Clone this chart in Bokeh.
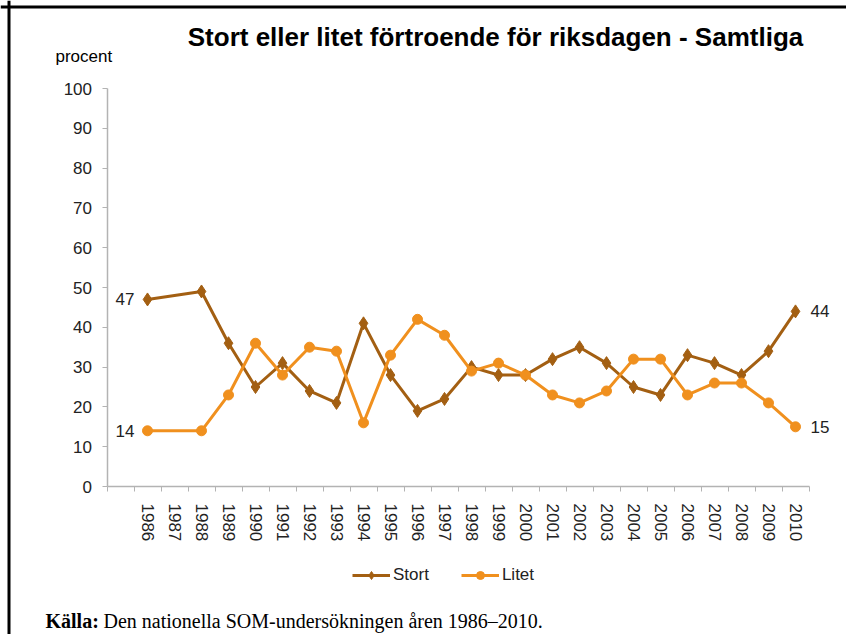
import math
from bokeh.plotting import figure
from bokeh.models import (FixedTicker, Label, Legend, LegendItem, ColumnDataSource, Span)
from bokeh.embed import file_html
from bokeh.resources import INLINE

# ---- data ----
all_years = list(range(1986, 2011))
years = [1986, 1988, 1989, 1990, 1991, 1992, 1993, 1994, 1995, 1996, 1997, 1998,
         1999, 2000, 2001, 2002, 2003, 2004, 2005, 2006, 2007, 2008, 2009, 2010]
stort = [47, 49, 36, 25, 31, 24, 21, 41, 28, 19, 22, 30,
         28, 28, 32, 35, 31, 25, 23, 33, 31, 28, 34, 44]
litet = [14, 14, 23, 36, 28, 35, 34, 16, 33, 42, 38, 29,
         31, 28, 23, 21, 24, 32, 32, 23, 26, 26, 21, 15]
y_ticks = list(range(0, 101, 10))

title_text = "Stort eller litet förtroende för riksdagen - Samtliga"
ylabel_text = "procent"
source_bold = "Källa:"
source_rest = "Den nationella SOM-undersökningen åren 1986–2010."

STORT_C = "#A35F12"
LITET_C = "#F0901E"
TXT = "#222222"
AX = "#B3B3B3"

W, H = 846, 634
# pixel geometry of the plotting area (frame covers the whole canvas)
px_per_year = 27.0
px_per_unit = 3.98
x0 = all_years[0] - 147 / px_per_year
x1 = x0 + W / px_per_year
y1 = 100 + 88 / px_per_unit
y0 = 0 - (H - 486) / px_per_unit

p = figure(width=W, height=H, output_backend="svg", toolbar_location=None,
           title=None, x_range=(x0, x1), y_range=(y0, y1),
           min_border=0, min_border_left=0, min_border_right=0,
           min_border_top=0, min_border_bottom=0)
p.outline_line_color = None
p.xgrid.visible = False
p.ygrid.visible = False
p.background_fill_color = "white"
p.border_fill_color = "white"

src_s = ColumnDataSource(dict(x=years, y=stort))
src_l = ColumnDataSource(dict(x=years, y=litet))

ls = p.line("x", "y", source=src_s, line_color=STORT_C, line_width=3)
ms = p.scatter("x", "y", source=src_s, marker="diamond", size=13,
               fill_color=STORT_C, line_color=STORT_C)
ll = p.line("x", "y", source=src_l, line_color=LITET_C, line_width=3)
ml = p.scatter("x", "y", source=src_l, marker="circle", size=10,
               fill_color=LITET_C, line_color=LITET_C)

x_lo = all_years[0] - 1.5
x_hi = all_years[-1] + 0.5

# axes at fixed locations inside the canvas
xa = p.xaxis[0]
xa.fixed_location = 0
xa.bounds = (x_lo, x_hi)
xa.ticker = FixedTicker(ticks=all_years,
                        minor_ticks=[x_lo + i for i in range(len(all_years) + 2)])
xa.major_label_overrides = {y: str(y) for y in all_years}
xa.major_label_orientation = -math.pi / 2
xa.major_tick_out = 0
xa.major_tick_in = 0
xa.minor_tick_out = 5
xa.minor_tick_in = 0
xa.minor_tick_line_color = AX
xa.axis_line_color = AX
xa.axis_line_width = 1.5
xa.major_label_text_font = "Liberation Sans"
xa.major_label_text_font_size = "17px"
xa.major_label_text_color = TXT
xa.major_label_standoff = 12

ya = p.yaxis[0]
ya.fixed_location = x_lo
ya.bounds = (0, 100)
ya.ticker = FixedTicker(ticks=y_ticks, minor_ticks=[])
ya.major_tick_out = 5
ya.major_tick_in = 0
ya.major_tick_line_color = AX
ya.axis_line_color = AX
ya.axis_line_width = 1.5
ya.major_label_text_font = "Liberation Sans"
ya.major_label_text_font_size = "17px"
ya.major_label_text_color = TXT
ya.major_label_standoff = 10

# frame border (top and left lines)
p.add_layout(Span(location=H - 6.5, location_units="screen", dimension="width",
                  line_color="black", line_width=3))
p.add_layout(Span(location=8.5, location_units="screen", dimension="height",
                  line_color="black", line_width=3))

# end labels
def end_label(x, y, side):
    p.add_layout(Label(x=x, y=y, text=str(y),
                       x_offset=(-13 if side == "left" else 15),
                       text_align=("right" if side == "left" else "left"),
                       text_baseline="middle", text_font="Liberation Sans",
                       text_font_size="17px", text_color=TXT))

end_label(years[0], stort[0], "left")
end_label(years[0], litet[0], "left")
end_label(years[-1], stort[-1], "right")
end_label(years[-1], litet[-1], "right")

# title, y label (screen units: x from left, y up from bottom)
p.add_layout(Label(x=495, y=H - 36, x_units="screen", y_units="screen", text=title_text,
                   text_align="center", text_baseline="middle",
                   text_font="Liberation Sans", text_font_style="bold",
                   text_font_size="26px", text_color="black"))
p.add_layout(Label(x=55, y=H - 56, x_units="screen", y_units="screen", text=ylabel_text,
                   text_align="left", text_baseline="middle",
                   text_font="Liberation Sans", text_font_size="17px",
                   text_color="black"))

# source
p.add_layout(Label(x=45, y=H - 620, x_units="screen", y_units="screen", text=source_bold,
                   text_align="left", text_baseline="middle",
                   text_font="Liberation Serif", text_font_style="bold",
                   text_font_size="20px", text_color="black"))
p.add_layout(Label(x=103, y=H - 620, x_units="screen", y_units="screen", text=source_rest,
                   text_align="left", text_baseline="middle",
                   text_font="Liberation Serif",
                   text_font_size="20px", text_color="black"))

legend = Legend(items=[LegendItem(label="Stort", renderers=[ls, ms]),
                       LegendItem(label="Litet", renderers=[ll, ml])],
                orientation="horizontal", location=(352, H - 585),
                glyph_width=38, glyph_height=20, label_standoff=3, spacing=32,
                padding=0, margin=0, border_line_color=None,
                background_fill_alpha=0,
                label_text_font="Liberation Sans", label_text_font_size="17px",
                label_text_color=TXT)
p.add_layout(legend, "center")

open("out.html", "w").write(file_html(p, INLINE))
